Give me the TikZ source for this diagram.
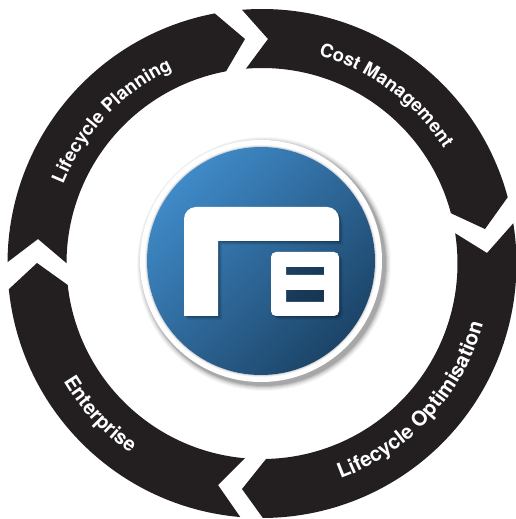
\documentclass[tikz,border=0pt]{standalone}
\usepackage{fontspec}
\setmainfont{TeX Gyre Heros}
\usetikzlibrary{decorations.text,calc}
\definecolor{ringblack}{HTML}{231F20}
\definecolor{discA}{HTML}{3F8AC8}
\definecolor{discB}{HTML}{1C4468}
\tikzset{
  x=1pt,y=1pt,
  ringseg/.style={fill=ringblack,draw=none},
  arctext/.style 2 args={decorate,decoration={text along path,text align=center,
     text={|\fontsize{#1}{#1}\bfseries\color{white}|#2}}}
}
% ring centre in picture coordinates: (262,255.5)
\def\cx{262}\def\cy{255.5}\def\Ro{254.5}\def\Ri{195.5}
\def\lshape{(184,203) -- (218,203) -- (218,278) -- (339,278) -- (339,300) arc[start angle=0,end angle=90,radius=12] -- (196,312) arc[start angle=90,end angle=180,radius=12] -- cycle}
\begin{document}
\begin{tikzpicture}
\useasboundingbox (0,0) rectangle (516,519);
\coordinate (c) at (\cx,\cy);
% Lifecycle Planning segment
\fill[ringseg] ($(c)+(179.7:\Ro)$) arc[start angle=179.7,end angle=100.7,radius=\Ro]
  -- (245,480) -- ($(c)+(100.6:\Ri)$) arc[start angle=100.6,end angle=179.9,radius=\Ri]
  -- (38,280) -- cycle;
% Cost Management segment
\fill[ringseg] ($(c)+(94.5:\Ro)$) arc[start angle=94.5,end angle=15.1,radius=\Ro]
  -- (485,290) -- ($(c)+(14.9:\Ri)$) arc[start angle=14.9,end angle=94.7,radius=\Ri]
  -- (268,480) -- cycle;
% Lifecycle Optimisation segment
\fill[ringseg] ($(c)+(9.1:\Ro)$) arc[start angle=9.1,end angle=-89.8,radius=\Ro]
  -- (242,30) -- ($(c)+(-88.8:\Ri)$) arc[start angle=-88.8,end angle=8.9,radius=\Ri]
  -- (487,266) -- cycle;
% Enterprise segment
\fill[ringseg] ($(c)+(265.1:\Ro)$) arc[start angle=265.1,end angle=185.8,radius=\Ro]
  -- (37,256) -- ($(c)+(186.3:\Ri)$) arc[start angle=186.3,end angle=265,radius=\Ri]
  -- (218,34) -- cycle;
% labels
\path[arctext={18.5}{Lifecycle Planning}] ($(c)+(176.5:214)$) arc[start angle=176.5,end angle=96.5,radius=214];
\path[arctext={18.5}{Cost Management}] ($(c)+(93.5:215)$) arc[start angle=93.5,end angle=13.5,radius=215];
\path[arctext={20.5}{Lifecycle Optimisation}] ($(c)+(-87.6:229)$) arc[start angle=-87.6,end angle=2.4,radius=229];
\path[arctext={20}{Enterprise}] ($(c)+(188:231)$) arc[start angle=188,end angle=258,radius=231];
% disc shadow
\foreach \r/\o in {127/.03,126/.04,125/.05,124/.07,123/.09,122/.12}
  \fill[black,opacity=\o] (264,255) circle[radius=\r];
\fill[white] (261,258) circle[radius=121];
\foreach \r/\o in {116/.06,115/.1}
  \fill[black,opacity=\o] (261,258) circle[radius=\r];
\shade[left color=discA,right color=discB,shading angle=45] (261,258) circle[radius=114];
% logo shadow
\foreach \d/\o in {4/.06,3/.08,2/.1,1/.12}{
  \fill[black,opacity=\o,xshift=\d,yshift=-\d] \lshape;
  \fill[black,opacity=\o,xshift=\d,yshift=-\d,rounded corners=5] (271,203) rectangle (339,267);
}
% logo
\fill[white] \lshape;
\fill[white,even odd rule] [rounded corners=5] (271,203) rectangle (339,267)
  [sharp corners] (286,244) rectangle (324,252) (286,217) rectangle (324,229);
\end{tikzpicture}
\end{document}
